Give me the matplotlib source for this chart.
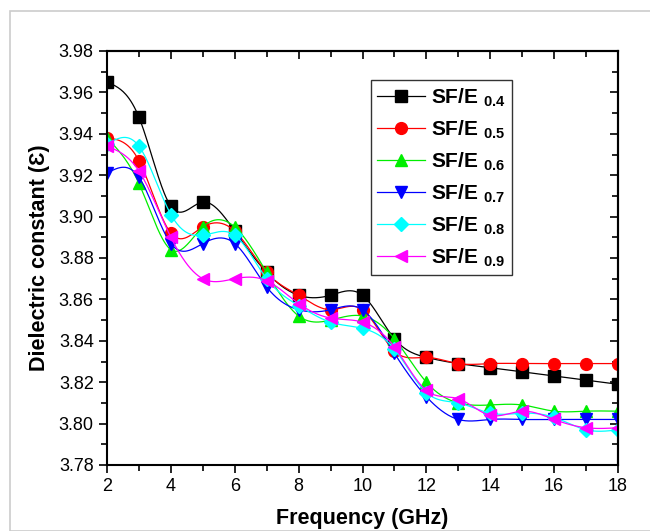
import numpy as np
import matplotlib
matplotlib.use("Agg")
import matplotlib.pyplot as plt
from matplotlib.patches import Rectangle

plt.rcParams['font.family'] = ['Liberation Sans', 'DejaVu Sans']
plt.rcParams['mathtext.fontset'] = 'custom'
plt.rcParams['mathtext.rm'] = 'Liberation Sans'
plt.rcParams['mathtext.bf'] = 'Liberation Sans:bold'

freq = [2, 3, 4, 5, 6, 7, 8, 9, 10, 11, 12, 13, 14, 15, 16, 17, 18]
sfe_04 = [3.965, 3.948, 3.905, 3.907, 3.893, 3.873, 3.862, 3.862, 3.862, 3.841, 3.832, 3.829, 3.827, 3.825, 3.823, 3.821, 3.819]
sfe_05 = [3.938, 3.927, 3.892, 3.895, 3.893, 3.873, 3.862, 3.855, 3.855, 3.835, 3.832, 3.829, 3.829, 3.829, 3.829, 3.829, 3.829]
sfe_06 = [3.938, 3.916, 3.884, 3.895, 3.895, 3.873, 3.852, 3.850, 3.852, 3.841, 3.820, 3.810, 3.809, 3.809, 3.806, 3.806, 3.806]
sfe_07 = [3.921, 3.919, 3.887, 3.887, 3.887, 3.866, 3.855, 3.855, 3.855, 3.834, 3.813, 3.802, 3.802, 3.802, 3.802, 3.802, 3.802]
sfe_08 = [3.935, 3.934, 3.901, 3.891, 3.891, 3.870, 3.857, 3.849, 3.846, 3.836, 3.815, 3.810, 3.805, 3.805, 3.803, 3.797, 3.797]
sfe_09 = [3.934, 3.922, 3.890, 3.870, 3.870, 3.869, 3.858, 3.851, 3.849, 3.837, 3.816, 3.812, 3.804, 3.806, 3.802, 3.798, 3.798]

series = [sfe_04, sfe_05, sfe_06, sfe_07, sfe_08, sfe_09]
labels = ['0.4', '0.5', '0.6', '0.7', '0.8', '0.9']
colors = ['#000000', '#ff0000', '#00ee00', '#0000ff', '#00ffff', '#ff00ff']
markers = ['s', 'o', '^', 'v', 'D', '<']
msizes = [8, 8.5, 8.5, 8.5, 7.5, 8.5]


def natural_spline(x, y, xs):
    x = np.asarray(x, float)
    y = np.asarray(y, float)
    n = len(x)
    h = np.diff(x)
    A = np.zeros((n, n))
    b = np.zeros(n)
    A[0, 0] = 1
    A[-1, -1] = 1
    for i in range(1, n - 1):
        A[i, i - 1] = h[i - 1]
        A[i, i] = 2 * (h[i - 1] + h[i])
        A[i, i + 1] = h[i]
        b[i] = 3 * ((y[i + 1] - y[i]) / h[i] - (y[i] - y[i - 1]) / h[i - 1])
    c = np.linalg.solve(A, b)
    out = np.empty_like(xs)
    for j, xv in enumerate(xs):
        i = min(max(np.searchsorted(x, xv) - 1, 0), n - 2)
        dx = xv - x[i]
        bi = (y[i + 1] - y[i]) / h[i] - h[i] * (2 * c[i] + c[i + 1]) / 3
        di = (c[i + 1] - c[i]) / (3 * h[i])
        out[j] = y[i] + bi * dx + c[i] * dx ** 2 + di * dx ** 3
    return out


fig = plt.figure(figsize=(6.5, 5.31), dpi=100)
fig.patches.append(Rectangle((10 / 650, 0), 1, 1 - 11 / 531, transform=fig.transFigure,
                             fill=False, edgecolor='#cccccc', linewidth=1.2))
ax = fig.add_axes([107 / 650, 1 - 465 / 531, (618 - 107) / 650, (465 - 51) / 531])

xs = np.linspace(freq[0], freq[-1], 600)
for yv, lab, col, mk, ms in zip(series, labels, colors, markers, msizes):
    ys = natural_spline(freq, yv, xs)
    ax.plot(xs, ys, color=col, lw=0.9)
    ax.plot(freq, yv, linestyle='none', marker=mk, color=col, markersize=ms, markeredgecolor=col)
    ax.plot([], [], color=col, lw=0.9, marker=mk, markersize=ms,
            label=r'SF/E $_{\mathbf{' + lab + '}}$')

ax.set_xlim(2, 18)
ax.set_ylim(3.78, 3.98)
ax.set_xticks(np.arange(2, 19, 2))
ax.set_xticks(np.arange(2, 19, 1), minor=True)
ax.set_yticks(np.arange(3.78, 3.981, 0.02))
ax.set_yticks(np.arange(3.78, 3.981, 0.01), minor=True)
ax.yaxis.set_major_formatter(matplotlib.ticker.FormatStrFormatter('%.2f'))
ax.tick_params(which='both', direction='out', labelsize=13, width=1.2)
ax.tick_params(which='major', length=6)
ax.tick_params(which='minor', length=4)
for s in ax.spines.values():
    s.set_linewidth(1.5)

secx = ax.secondary_xaxis('top')
secx.set_xticks(np.arange(2, 19, 2))
secx.set_xticks(np.arange(2, 19, 1), minor=True)
secx.tick_params(which='both', direction='in', labeltop=False, width=1.2)
secx.tick_params(which='major', length=6)
secx.tick_params(which='minor', length=4)
secx.spines['top'].set_linewidth(1.5)
secy = ax.secondary_yaxis('right')
secy.set_yticks(np.arange(3.78, 3.981, 0.02))
secy.set_yticks(np.arange(3.78, 3.981, 0.01), minor=True)
secy.tick_params(which='both', direction='in', labelright=False, width=1.2)
secy.tick_params(which='major', length=6)
secy.tick_params(which='minor', length=4)
secy.spines['right'].set_linewidth(1.5)

ax.set_xlabel('Frequency (GHz)', fontsize=15.5, fontweight='bold', labelpad=9)
ax.set_ylabel('Dielectric constant (Ɛ)', fontsize=15.5, fontweight='bold', labelpad=6)

leg = ax.legend(loc='upper left', bbox_to_anchor=((371 - 107) / 511, (465 - 80) / 414),
                borderaxespad=0, frameon=True, fancybox=False, edgecolor='black',
                prop={'size': 15, 'weight': 'bold'}, handlelength=2.3, labelspacing=0.45,
                borderpad=0.3, handletextpad=0.3)
leg.get_frame().set_linewidth(1.0)

fig.savefig('out.png', dpi=100)
